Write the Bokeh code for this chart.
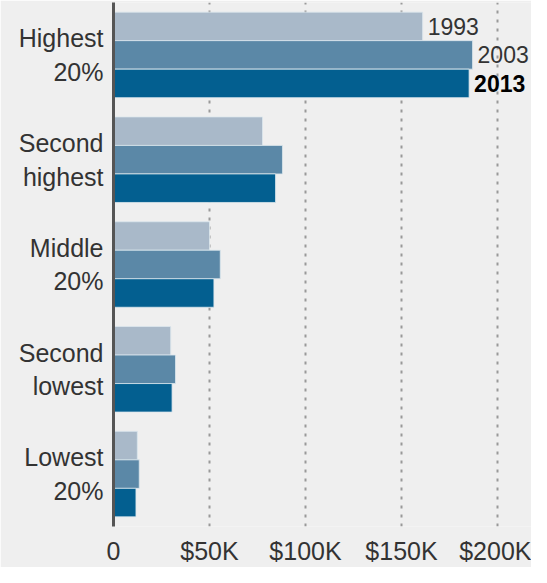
from bokeh.plotting import figure
from bokeh.models import ColumnDataSource, FactorRange, Range1d, FixedTicker
from bokeh.transform import dodge
from bokeh.core.properties import value
from bokeh.embed import file_html
from bokeh.resources import INLINE

# Data (mean household income, thousands of dollars), top to bottom
categories = ["Highest\n20%", "Second\nhighest", "Middle\n20%", "Second\nlowest", "Lowest\n20%"]
years = ["1993", "2003", "2013"]
income_1993 = [161.0, 77.6, 50.0, 29.8, 12.4]
income_2003 = [187.0, 88.0, 55.6, 32.3, 13.4]
income_2013 = [185.2, 84.4, 52.3, 30.5, 11.7]
x_ticks = [0, 50, 100, 150, 200]
x_tick_labels = ["0", "$50K", "$100K", "$150K", "$200K"]

colors = {"1993": "#a9b9c9", "2003": "#5b88a7", "2013": "#035f90"}
label_style = {"1993": ("normal", "#333333"), "2003": ("normal", "#333333"), "2013": ("bold", "#000000")}
FONT = "Liberation Sans"
BG = "#efefef"

data = {"1993": income_1993, "2003": income_2003, "2013": income_2013}
src = ColumnDataSource(dict(cat=categories, y1993=income_1993, y2003=income_2003, y2013=income_2013))

p = figure(width=531, height=567, output_backend="svg", toolbar_location=None,
           y_range=FactorRange(factors=categories[::-1], range_padding=0),
           x_range=Range1d(0, 217.7),
           min_border_left=113, min_border_right=0, min_border_top=2, min_border_bottom=37)
p.background_fill_color = BG
p.border_fill_color = BG
p.outline_line_color = None

bar_h = 0.272
offsets = {"1993": bar_h, "2003": 0.0, "2013": -bar_h}
for yr in years:
    p.hbar(y=dodge("cat", offsets[yr], range=p.y_range), left=0, right="y" + yr, height=bar_h,
           source=src, fill_color=colors[yr], line_color="#dce7ee", line_width=1, line_alpha=0.8)
    # year label next to the top group's bar
    lsrc = ColumnDataSource(dict(cat=[categories[0]], x=[data[yr][0]], txt=[yr]))
    style, col = label_style[yr]
    p.text(x="x", y=dodge("cat", offsets[yr], range=p.y_range), text="txt", source=lsrc,
           text_font=value(FONT), text_font_size="23px", text_font_style=style,
           text_color=col, text_baseline="middle", text_align="left", x_offset=5)

# grid
p.ygrid.grid_line_color = None
p.xgrid.ticker = FixedTicker(ticks=x_ticks[1:])
p.xgrid.grid_line_color = "#999999"
p.xgrid.grid_line_width = 2
p.xgrid.grid_line_dash = "3 6"

# x axis
p.xaxis.ticker = FixedTicker(ticks=x_ticks)
p.xaxis.major_label_overrides = {t: l for t, l in zip(x_ticks, x_tick_labels)}
p.xaxis.axis_line_color = None
p.xaxis.major_tick_line_color = None
p.xaxis.minor_tick_line_color = None
p.xaxis.major_tick_out = 0
p.xaxis.major_tick_in = 0
p.xaxis.major_label_standoff = 10
p.xaxis.major_label_text_font = FONT
p.xaxis.major_label_text_font_size = "25px"
p.xaxis.major_label_text_color = "#333333"

# y axis
p.yaxis.axis_line_color = "#555555"
p.yaxis.axis_line_width = 3
p.yaxis.major_tick_line_color = None
p.yaxis.minor_tick_line_color = None
p.yaxis.major_tick_out = 0
p.yaxis.major_tick_in = 0
p.yaxis.major_label_standoff = 10
p.yaxis.major_label_text_font = FONT
p.yaxis.major_label_text_font_size = "25px"
p.yaxis.major_label_text_color = "#333333"

open("out.html", "w").write(file_html(p, INLINE))
